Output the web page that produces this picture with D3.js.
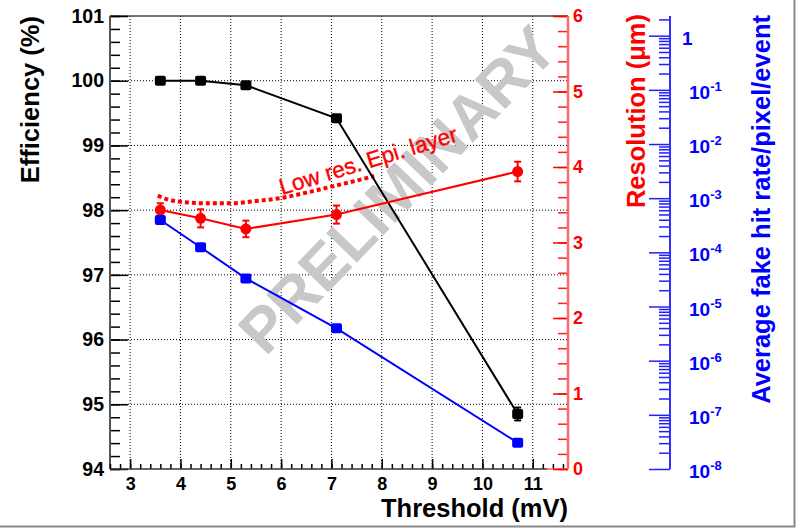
<!DOCTYPE html>
<html>
<head>
<meta charset="utf-8">
<script src="https://cdn.jsdelivr.net/npm/d3@7"></script>
<style>
  body { margin: 0; background: #fff; }
  text { font-family: "Liberation Sans", Arial, Helvetica, sans-serif; }
</style>
</head>
<body>
<div class="canvas"></div>
<script>
// data
const threshold = [3.6, 4.4, 5.3, 7.1, 10.7];
const efficiency = [100.0, 100.0, 99.93, 99.42, 94.85];
const effErr = [0.01, 0.01, 0.02, 0.02, 0.1];
const resolution = [3.43, 3.32, 3.18, 3.37, 3.94];
const resErr = [0.09, 0.12, 0.11, 0.12, 0.13];
const fakeRate = [3.95e-4, 1.24e-4, 3.3e-5, 3.96e-6, 3.06e-8];

// dotted "low res. epi layer" curve
const epiX = [3.55, 3.8, 4.0, 4.5, 5.0, 5.5, 6.0, 6.5, 7.0, 7.5, 7.85];
const epiRes = [3.62, 3.56, 3.54, 3.52, 3.52, 3.55, 3.59, 3.66, 3.74, 3.82, 3.88];

// tick labels
const thrTicks = [3, 4, 5, 6, 7, 8, 9, 10, 11];
const effTicks = [94, 95, 96, 97, 98, 99, 100, 101];
const resTicks = [0, 1, 2, 3, 4, 5, 6];
const rateExp = [0, -1, -2, -3, -4, -5, -6, -7, -8];

const dims = { width: 796, height: 528, left: 110, right: 568, top: 16, bottom: 469 };
const blueX = 670;

const svg = d3.select('.canvas')
  .append('svg')
  .attr('width', dims.width)
  .attr('height', dims.height);

svg.append('rect').attr('width', dims.width).attr('height', dims.height).attr('fill', '#fff');

// scales
const x = d3.scaleLinear().domain([2.6, 11.7]).range([dims.left, dims.right]);
const yEff = d3.scaleLinear().domain([94, 101]).range([dims.bottom, dims.top]);
const yRes = d3.scaleLinear().domain([0, 6]).range([dims.bottom, dims.top]);
const yRate = d3.scaleLog().domain([1e-8, 2.31]).range([dims.bottom, dims.top]);

// grid
const grid = svg.append('g')
  .attr('stroke', '#000')
  .attr('stroke-width', 1)
  .attr('stroke-dasharray', '1,2');
grid.selectAll('.gx').data(thrTicks).enter().append('line')
  .attr('x1', d => x(d)).attr('x2', d => x(d))
  .attr('y1', dims.top).attr('y2', dims.bottom);
grid.selectAll('.gy').data(effTicks.slice(1, -1)).enter().append('line')
  .attr('y1', d => yEff(d)).attr('y2', d => yEff(d))
  .attr('x1', dims.left).attr('x2', dims.right);

// watermark
svg.append('text')
  .attr('transform', 'translate(397,189) rotate(-46)')
  .attr('text-anchor', 'middle')
  .attr('dy', '0.36em')
  .attr('font-size', 62)
  .attr('font-weight', 'bold')
  .attr('fill', '#c8c8c8')
  .text('PRELIMINARY');

// frame top
svg.append('line')
  .attr('x1', dims.left).attr('x2', dims.right)
  .attr('y1', dims.top).attr('y2', dims.top)
  .attr('stroke', '#444').attr('stroke-width', 1.5);

// helper to style an axis group
const styleAxis = (g, color, fs) => {
  g.select('.domain').remove();
  g.selectAll('line').attr('stroke', color).attr('stroke-width', 1.5);
  g.selectAll('text')
    .attr('fill', color)
    .attr('font-size', fs)
    .attr('font-weight', 'bold')
    .attr('font-family', '"Liberation Sans", Arial, sans-serif');
};

// left axis (efficiency)
const effMinor = d3.range(470, 506).map(i => i / 5);
svg.append('g').attr('transform', `translate(${dims.left},0)`)
  .call(d3.axisLeft(yEff).tickValues(effMinor).tickSize(-10).tickFormat(''))
  .call(g => styleAxis(g, '#000', 19));
svg.append('g').attr('transform', `translate(${dims.left},0)`)
  .call(d3.axisLeft(yEff).tickValues(effTicks).tickSize(-18).tickPadding(6).tickFormat(d3.format('d')))
  .call(g => styleAxis(g, '#000', 19.5));
svg.append('line')
  .attr('x1', dims.left).attr('x2', dims.left)
  .attr('y1', dims.top).attr('y2', dims.bottom)
  .attr('stroke', '#555').attr('stroke-width', 2);

// bottom axis (threshold)
const thrMinor = d3.range(13, 59).map(i => i / 5);
svg.append('g').attr('transform', `translate(0,${dims.bottom})`)
  .call(d3.axisBottom(x).tickValues(thrMinor).tickSize(-5).tickFormat(''))
  .call(g => styleAxis(g, '#000', 18));
svg.append('g').attr('transform', `translate(0,${dims.bottom})`)
  .call(d3.axisBottom(x).tickValues(thrTicks).tickSize(-10).tickPadding(8).tickFormat(d3.format('d')))
  .call(g => styleAxis(g, '#000', 18));
svg.append('line')
  .attr('x1', dims.left).attr('x2', 547)
  .attr('y1', dims.bottom).attr('y2', dims.bottom)
  .attr('stroke', '#333').attr('stroke-width', 1.5);
svg.append('line')
  .attr('x1', 547).attr('x2', dims.right)
  .attr('y1', dims.bottom).attr('y2', dims.bottom)
  .attr('stroke', '#ff6060').attr('stroke-width', 1.5);

// right axis (resolution)
const resMinor = d3.range(0, 31).map(i => i / 5);
svg.append('g').attr('transform', `translate(${dims.right},0)`)
  .call(d3.axisRight(yRes).tickValues(resMinor).tickSize(-10).tickFormat(''))
  .call(g => styleAxis(g, '#ff2020', 18));
svg.append('g').attr('transform', `translate(${dims.right},0)`)
  .call(d3.axisRight(yRes).tickValues(resTicks).tickSize(-15).tickPadding(5).tickFormat(d3.format('d')))
  .call(g => styleAxis(g, '#ff0000', 18));
svg.append('line')
  .attr('x1', dims.right).attr('x2', dims.right)
  .attr('y1', dims.top).attr('y2', dims.bottom)
  .attr('stroke', '#ff6a6a').attr('stroke-width', 2.5);

// far right log axis (fake hit rate)
const decades = rateExp.map(e => Math.pow(10, e));
const rateMinor = [];
rateExp.slice(1).forEach(e => {
  for (let k = 2; k <= 9; k++) rateMinor.push(k * Math.pow(10, e));
});
rateMinor.push(2);
svg.append('g').attr('transform', `translate(${blueX},0)`)
  .call(d3.axisRight(yRate).tickValues(rateMinor).tickSize(-11).tickFormat(''))
  .call(g => styleAxis(g, '#2020ff', 18));
svg.append('g').attr('transform', `translate(${blueX},0)`)
  .call(d3.axisRight(yRate).tickValues(decades).tickSize(-21).tickFormat(''))
  .call(g => styleAxis(g, '#2020ff', 18));
svg.append('line')
  .attr('x1', blueX).attr('x2', blueX)
  .attr('y1', dims.top).attr('y2', dims.bottom)
  .attr('stroke', '#3030ff').attr('stroke-width', 2);

const rateLabels = svg.append('g')
  .attr('fill', '#0000ff')
  .attr('font-weight', 'bold');
rateExp.forEach(e => {
  const t = rateLabels.append('text')
    .attr('x', e === 0 ? 682 : 689)
    .attr('y', yRate(Math.pow(10, e)) + 9)
    .attr('font-size', 19);
  if (e === 0) {
    t.text('1');
  } else {
    t.append('tspan').text('10');
    t.append('tspan').attr('font-size', 13).attr('dy', -8).text(e);
  }
});

// axis titles
const title = (txt, tx, ty, rot, color, anchor) => {
  svg.append('text')
    .attr('transform', `translate(${tx},${ty}) rotate(${rot})`)
    .attr('text-anchor', anchor)
    .attr('font-size', 25.5)
    .attr('font-weight', 'bold')
    .attr('fill', color)
    .text(txt);
};
title('Efficiency (%)', 39, 16, -90, '#000', 'end');
title('Threshold (mV)', 568, 517, 0, '#000', 'end');
title('Resolution (\u03bcm)', 645, 14, -90, '#ff0000', 'end');
title('Average fake hit rate/pixel/event', 770, 15, -90, '#0000ff', 'end');

// dotted epi curve and its label
const epiLine = d3.line()
  .x(d => x(d[0]))
  .y(d => yRes(d[1]))
  .curve(d3.curveMonotoneX);
svg.append('path')
  .attr('d', epiLine(epiX.map((v, i) => [v, epiRes[i]])))
  .attr('fill', 'none')
  .attr('stroke', '#ff0000')
  .attr('stroke-width', 4)
  .attr('stroke-dasharray', '4,3');
svg.append('text')
  .attr('transform', 'translate(282,195) rotate(-17)')
  .attr('font-size', 22.5)
  .attr('fill', '#ff0000')
  .attr('stroke', '#ff0000')
  .attr('stroke-width', 0.4)
  .text('Low res. Epi. layer');

// series
const series = [
  { vals: efficiency, err: effErr, y: yEff, color: '#000', marker: 'square' },
  { vals: resolution, err: resErr, y: yRes, color: '#ff0000', marker: 'circle' },
  { vals: fakeRate, err: null, y: yRate, color: '#0000ff', marker: 'square' }
];

series.forEach(s => {
  const pts = threshold.map((t, i) => ({ x: t, v: s.vals[i], e: s.err ? s.err[i] : 0 }));
  const g = svg.append('g');

  g.append('path')
    .attr('d', d3.line().x(d => x(d.x)).y(d => s.y(d.v))(pts))
    .attr('fill', 'none')
    .attr('stroke', s.color)
    .attr('stroke-width', 2);

  if (s.err) {
    const eb = g.selectAll('.err').data(pts).enter().append('g')
      .attr('stroke', s.color).attr('stroke-width', 2);
    eb.append('line')
      .attr('x1', d => x(d.x)).attr('x2', d => x(d.x))
      .attr('y1', d => s.y(d.v - d.e)).attr('y2', d => s.y(d.v + d.e));
    [-1, 1].forEach(sign => {
      eb.append('line')
        .attr('x1', d => x(d.x) - 3.5).attr('x2', d => x(d.x) + 3.5)
        .attr('y1', d => s.y(d.v + sign * d.e)).attr('y2', d => s.y(d.v + sign * d.e));
    });
  }

  if (s.marker === 'circle') {
    g.selectAll('.m').data(pts).enter().append('circle')
      .attr('cx', d => x(d.x)).attr('cy', d => s.y(d.v))
      .attr('r', 5.5).attr('fill', s.color);
  } else {
    g.selectAll('.m').data(pts).enter().append('rect')
      .attr('x', d => x(d.x) - 5.5).attr('y', d => s.y(d.v) - 5)
      .attr('width', 11).attr('height', 10).attr('rx', 2)
      .attr('fill', s.color);
  }
});

// canvas border (right and bottom)
svg.append('path')
  .attr('d', `M${dims.width - 1.5},0 V${dims.height - 1.5} H0`)
  .attr('fill', 'none')
  .attr('stroke', '#888')
  .attr('stroke-width', 2);
</script>
</body>
</html>
